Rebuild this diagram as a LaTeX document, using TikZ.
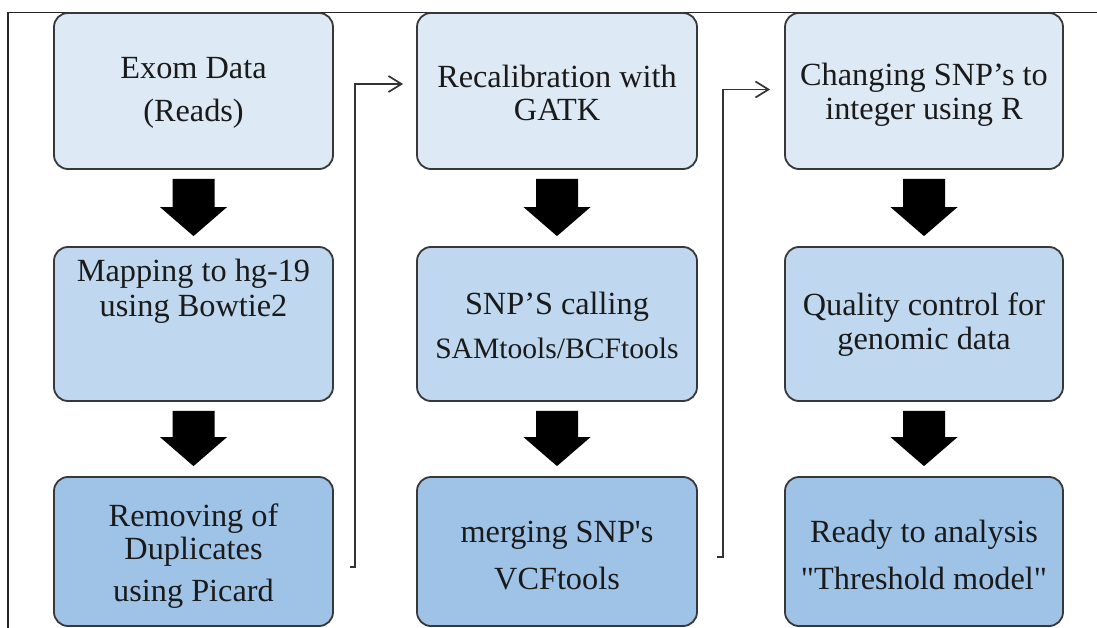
\documentclass[tikz,border=0pt]{standalone}
\usepackage{fontspec}
\setmainfont{Liberation Serif}
\usetikzlibrary{calc,arrows.meta}
\definecolor{fillA}{HTML}{DDE9F5}
\definecolor{fillB}{HTML}{BFD8EF}
\definecolor{fillC}{HTML}{9FC3E6}
\definecolor{edgec}{HTML}{383838}
\definecolor{txtc}{HTML}{1A1A1A}
\definecolor{linec}{HTML}{333333}
\tikzset{
  box/.style={draw=edgec, line width=1.8pt, rounded corners=14pt, minimum width=279pt, inner sep=0pt},
  txt/.style={text=txtc, align=center, font=\fontsize{32.3}{34}\selectfont, inner sep=0pt},
  conn/.style={draw=linec, line width=1.7pt, -{Straight Barb[length=13pt,width=16pt,line width=1.7pt]}},
  frame/.style={draw=black!85, line width=1.2pt},
  blk/.style={fill=black}
}
\newcommand\blockarr[2]{%
  \fill[blk] let \p1=(#1.south), \p2=(#2.north) in
    (\x1-21pt,\y1-9pt) -- (\x1+21pt,\y1-9pt) -- (\x1+21pt,\y2+39pt) -- (\x1+33.5pt,\y2+39pt)
    -- (\x1,\y2+10pt) -- (\x1-33.5pt,\y2+39pt) -- (\x1-21pt,\y2+39pt) -- cycle;}
\begin{document}
\begin{tikzpicture}[x=1pt,y=-1pt]
\useasboundingbox (0,0) rectangle (1097,628);
\fill[white] (0,0) rectangle (1097,628);
\draw[frame] (8,628) -- (8,12.5) -- (1097,12.5);
% boxes
\node[box, fill=fillA, minimum height=156pt] (c1r1) at (193.5,91) {};
\node[box, fill=fillB, minimum height=154pt] (c1r2) at (193.5,324) {};
\node[box, fill=fillC, minimum height=149pt] (c1r3) at (193.5,551.5) {};
\node[box, fill=fillA, minimum height=156pt, minimum width=280pt] (c2r1) at (557,91) {};
\node[box, fill=fillB, minimum height=154pt, minimum width=280pt] (c2r2) at (557,324) {};
\node[box, fill=fillC, minimum height=149pt, minimum width=280pt] (c2r3) at (557,551.5) {};
\node[box, fill=fillA, minimum height=156pt, minimum width=278pt] (c3r1) at (924,91) {};
\node[box, fill=fillB, minimum height=154pt, minimum width=278pt] (c3r2) at (924,324) {};
\node[box, fill=fillC, minimum height=149pt, minimum width=278pt] (c3r3) at (924,551.5) {};
% texts
\node[txt] (t11) at (193.5,93) {Exom Data\\[9pt](Reads)};
\node[txt] (t12) at (193.5,291) {Mapping to hg-19\\[1pt]using Bowtie2};
\node[txt] (t13) at (193.5,556) {Removing of\\[-1pt]Duplicates\\[8pt]using Picard};
\node[txt] (t21) at (557,93) {Recalibration with\\[-1pt]GATK};
\node[txt] (t22) at (557,325) {SNP'S calling\\[10pt]{\fontsize{29.6}{34}\selectfont SAMtools/BCFtools}};
\node[txt] (t23) at (557,556) {merging SNP\textquotesingle s\\[13pt]VCFtools};
\node[txt] (t31) at (924,95) {Changing SNP's to\\[0pt]integer using R};
\node[txt] (t32) at (924,325) {Quality control for\\[0pt]genomic data};
\node[txt] (t33) at (924,555) {Ready to analysis\\[13pt]\textquotedbl Threshold model\textquotedbl};
% block arrows
\blockarr{c1r1}{c1r2}
\blockarr{c1r2}{c1r3}
\blockarr{c2r1}{c2r2}
\blockarr{c2r2}{c2r3}
\blockarr{c3r1}{c3r2}
\blockarr{c3r2}{c3r3}
% connectors
\coordinate (s1) at ($(c1r3.east)+(16pt,-15.5pt)$);
\coordinate (e1) at ($(c2r1.west)+(-13pt,7pt)$);
\coordinate (s2) at ($(c2r3.east)+(19pt,-5.5pt)$);
\coordinate (e2) at ($(c3r1.west)+(-14pt,1.5pt)$);
\draw[conn] (s1) -- ++(5pt,0) |- (e1);
\draw[conn] (s2) -- ++(6pt,0) |- (e2);
\end{tikzpicture}
\end{document}
